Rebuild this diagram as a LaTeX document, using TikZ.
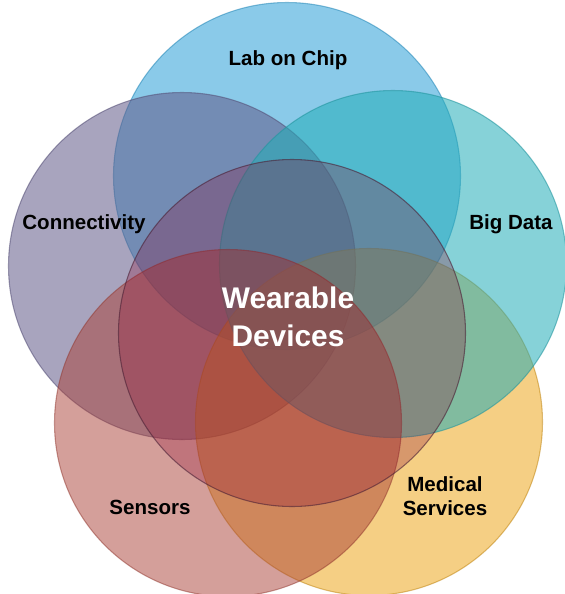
\documentclass[tikz,border=0pt]{standalone}
\usepackage{fontspec}
\setmainfont{Liberation Sans}
\usepackage{xcolor}
\usepackage{tikz}

\definecolor{labblue}{HTML}{2A9FD7}
\definecolor{connviolet}{HTML}{615A89}
\definecolor{datateal}{HTML}{23ADB8}
\definecolor{sensrose}{HTML}{A93F35}
\definecolor{medorange}{HTML}{EB9F09}
\definecolor{hubred}{HTML}{8C0A30}
\definecolor{hubedge}{HTML}{4A2035}

\begin{document}
\begin{tikzpicture}[
        x=0.75pt, y=-0.75pt,
        venn/.style={
            circle,
            inner sep=0pt,
            minimum size=260.25pt,
            line width=0.8pt
        },
        ringlabel/.style={
            font=\bfseries\fontsize{15.4}{18}\selectfont,
            align=center,
            text=black
        },
        hublabel/.style={
            font=\bfseries\fontsize{22.4}{28.5}\selectfont,
            align=center,
            text=white
        }
    ]
        \useasboundingbox (0,0) rectangle (565,594);

        % outer circles, back to front
        \node[venn, fill=labblue, draw=labblue!85!black, opacity=0.55] (lab) at (287,176) {};
        \node[venn, fill=connviolet, draw=connviolet!85!black, opacity=0.55] (conn) at (182,266) {};
        \node[venn, fill=medorange, draw=medorange!80!black, opacity=0.5] (medical) at (369,422) {};
        \node[venn, fill=datateal, draw=datateal!85!black, opacity=0.55] (bigdata) at (393,264) {};
        \node[venn, fill=sensrose, draw=sensrose!85!black, opacity=0.5] (sensors) at (228,423) {};

        % hub circle on top
        \node[venn, fill=hubred, fill opacity=0.28, draw=hubedge, draw opacity=0.6] (hub) at (292,333) {};

        \node[hublabel] (hubtext) at (288,316.7) {Wearable\\Devices};

        \node[ringlabel, anchor=base] (labtext) at (288,65) {Lab on Chip};
        \node[ringlabel, anchor=base] (conntext) at (84,229.5) {Connectivity};
        \node[ringlabel, anchor=base] (bigdatatext) at (511,229.5) {Big Data};
        \node[ringlabel, anchor=base] (sensorstext) at (150,514.5) {Sensors};
        \node[ringlabel] (medicaltext) at (445,496) {Medical\\Services};
    \end{tikzpicture}
\end{document}
